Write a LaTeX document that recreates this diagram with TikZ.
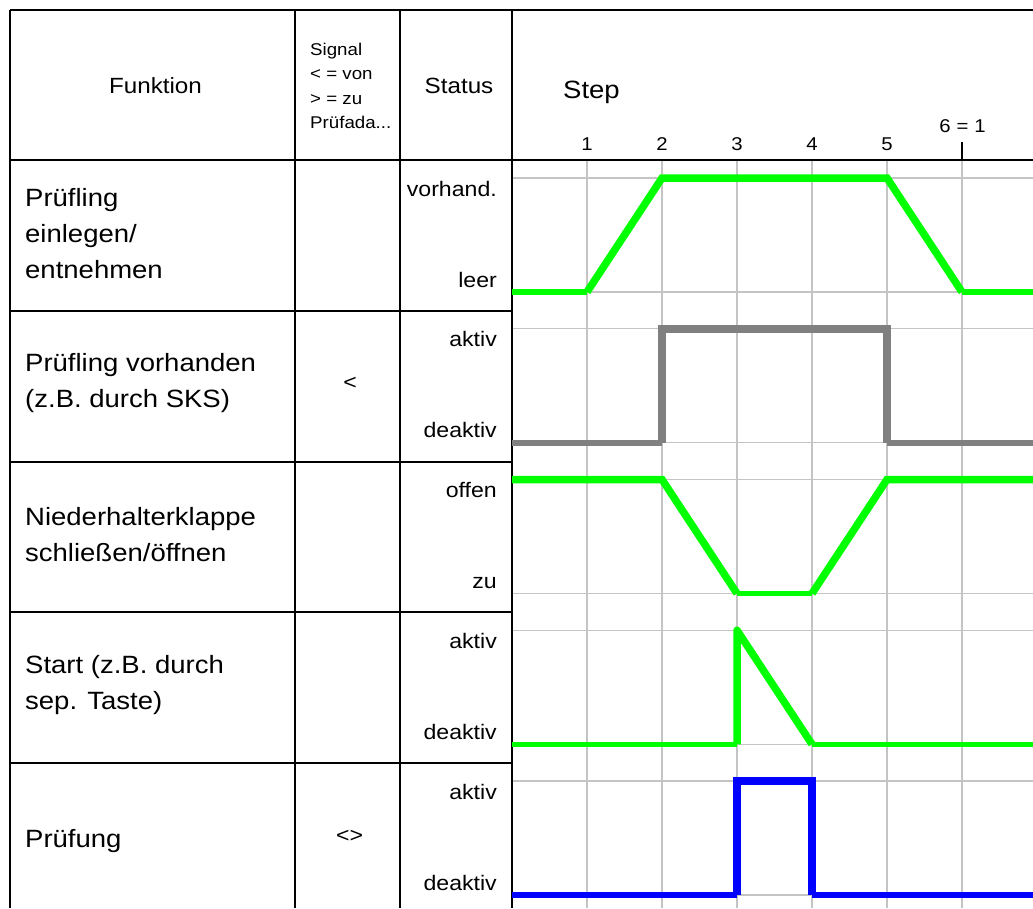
\documentclass[tikz,border=0pt]{standalone}
\usepackage{fontspec}
\setmainfont{Liberation Sans}[FakeStretch=1.1]
\definecolor{sgreen}{RGB}{0,255,0}
\definecolor{sgray}{RGB}{128,128,128}
\definecolor{sblue}{RGB}{0,0,255}
\definecolor{gridc}{RGB}{196,196,196}
\begin{document}
\begin{tikzpicture}[x=1pt,y=-1pt,
  frame/.style={line width=2pt,black},
  gridl/.style={line width=1.3pt,gridc},
  thick7/.style={line width=7.5pt,line join=miter},
  thin5/.style={line width=5.5pt},
  lbl/.style={inner sep=0pt,align=left,font=\fontsize{25}{36}\selectfont},
  hdr/.style={inner sep=0pt,font=\fontsize{22}{26}\selectfont},
  stat/.style={inner sep=0pt,anchor=base east,font=\fontsize{21}{25}\selectfont},
  num/.style={inner sep=0pt,anchor=base,font=\fontsize{18.5}{22}\selectfont},
  sigtxt/.style={inner sep=0pt,font=\fontsize{21}{25}\selectfont}]
\useasboundingbox (0,0) rectangle (1033,908);
\fill[white] (0,0) rectangle (1033,908);
% grid
\foreach \k in {1,...,6} \draw[gridl] (512+75*\k,161) -- (512+75*\k,908);
\foreach \t in {160,310.75,461.5,612.25,763} {
  \draw[gridl] (512,\t+18) -- (1033,\t+18);
  \draw[gridl] (512,\t+132) -- (1033,\t+132);
}
% frame
\draw[frame] (10,10) -- (1033,10);
\draw[frame] (10,160) -- (1033,160);
\foreach \xx in {10,295,400,512} \draw[frame] (\xx,10) -- (\xx,908);
\foreach \t in {310.75,461.5,612.25,763} \draw[frame] (10,\t) -- (512,\t);
\draw[line width=1.5pt] (962,142) -- (962,160);
% header texts
\node[hdr,anchor=base] (funk) at (155.5,93) {Funktion};
\node[hdr,anchor=base] (status) at (459,93) {Status};
\node[inner sep=0pt,align=left,anchor=west,font=\fontsize{17}{24.5}\selectfont] (signal) at (310,86) {Signal\\< = von\\> = zu\\Prüfada...};
\node[inner sep=0pt,anchor=base west,font=\fontsize{25}{30}\selectfont] (step) at (563,98) {Step};
\node[num] (n1) at (587,150) {1};
\node[num] (n2) at (662,150) {2};
\node[num] (n3) at (737,150) {3};
\node[num] (n4) at (812,150) {4};
\node[num] (n5) at (887,150) {5};
\node[num] (n6) at (962.5,132) {{\spaceskip=6pt 6 = 1}};
% row labels
\node[lbl,anchor=west] (r1) at (25,233.4) {Prüfling\\einlegen/\\entnehmen};
\node[lbl,anchor=west] (r2) at (25,383.5) {Prüfling vorhanden\\(z.B. durch SKS)};
\node[lbl,anchor=west] (r3) at (25,534.5) {Niederhalterklappe\\schließen/öffnen};
\node[lbl,anchor=west] (r4) at (25,685) {Start (z.B. durch\\sep. Taste)};
\node[lbl,anchor=base west] (r5) at (25,847) {Prüfung};
\node[sigtxt] (s2) at (350,383) {<};
\node[sigtxt] (s5) at (349.5,836.7) {<>};
% status labels
\node[stat] (h1) at (497,196.5) {vorhand.};
\node[stat] (l1) at (497,287) {leer};
\node[stat] (h2) at (497,346.75) {aktiv};
\node[stat] (l2) at (497,437.5) {deaktiv};
\node[stat] (h3) at (497,497.5) {offen};
\node[stat] (l3) at (497,588.5) {zu};
\node[stat] (h4) at (497,648.25) {aktiv};
\node[stat] (l4) at (497,739.25) {deaktiv};
\node[stat] (h5) at (497,799) {aktiv};
\node[stat] (l5) at (497,890) {deaktiv};
% row 1 signal
\draw[thin5,sgreen] (512,292) -- (587,292);
\draw[thin5,sgreen] (962,292) -- (1033,292);
\draw[thick7,sgreen] (587,292) -- (662,178) -- (887,178) -- (962,292);
% row 2 signal
\draw[thin5,sgray] (512,442.75) -- (662,442.75);
\draw[thin5,sgray] (887,442.75) -- (1033,442.75);
\draw[thick7,sgray] (662,442.75) -- (662,328.75) -- (887,328.75) -- (887,442.75);
% row 3 signal
\draw[thick7,sgreen] (512,479.5) -- (662,479.5) -- (737,593.5);
\draw[thick7,sgreen] (812,593.5) -- (887,479.5) -- (1033,479.5);
\draw[thin5,sgreen] (737,593.5) -- (812,593.5);
% row 4 signal
\draw[thin5,sgreen] (512,744.25) -- (737,744.25);
\draw[thin5,sgreen] (812,744.25) -- (1033,744.25);
\draw[thick7,sgreen,line join=round] (737,744.25) -- (737,630.25) -- (812,744.25);
% row 5 signal
\draw[thin5,sblue] (512,895) -- (737,895);
\draw[thin5,sblue] (812,895) -- (1033,895);
\draw[thick7,sblue] (737,895) -- (737,781) -- (812,781) -- (812,895);
\end{tikzpicture}
\end{document}
